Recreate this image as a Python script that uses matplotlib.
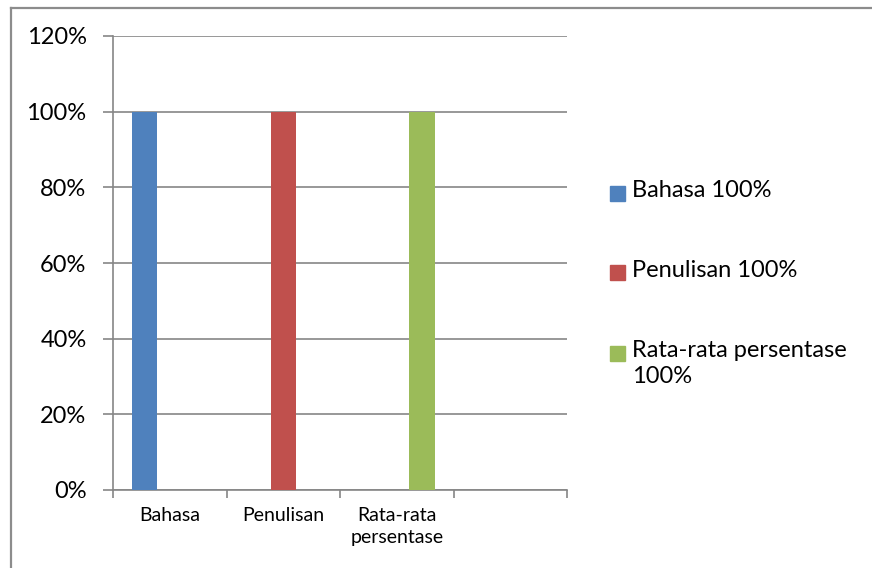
import numpy as np
import matplotlib.pyplot as plt
from matplotlib.lines import Line2D
from matplotlib.patches import Rectangle
from matplotlib.ticker import PercentFormatter

plt.rcParams['font.family'] = ['Lato', 'DejaVu Sans']

# four category slots, the last one is left empty
kategori = ['Bahasa', 'Penulisan', 'Rata-rata\npersentase', '']
seri = ['Bahasa', 'Penulisan', 'Rata-rata persentase']
nilai = [
    [100, np.nan, np.nan, np.nan],
    [np.nan, 100, np.nan, np.nan],
    [np.nan, np.nan, 100, np.nan],
]
label_legenda = ['Bahasa 100%', 'Penulisan 100%', 'Rata-rata persentase\n100%']
warna = ['#4F81BD', '#C0504D', '#9BBB59']

W, H = 872, 568
fig = plt.figure(figsize=(W / 100, H / 100), dpi=100)
ax = fig.add_axes([113 / W, 78 / H, 454 / W, 454 / H])

x = np.arange(len(kategori))
lebar = 1 / 4.5
for i, (nama, v) in enumerate(zip(seri, nilai)):
    ax.bar(x + (i - 1) * lebar, v, lebar, color=warna[i], zorder=3, label=nama)

ax.set_xlim(-0.5, len(kategori) - 0.5)
ax.set_ylim(0, 120)
ax.set_yticks(np.arange(0, 121, 20))
ax.yaxis.set_major_formatter(PercentFormatter(decimals=0))
ax.grid(axis='y', color='#868686', linewidth=1.2, zorder=0)

ax.set_xticks(np.arange(-0.5, len(kategori)))
ax.set_xticklabels([])
ax.set_xticks(x, minor=True)
ax.set_xticklabels(kategori, minor=True, fontsize=14, linespacing=1.4)
ax.tick_params(axis='x', which='minor', length=0, pad=12)
ax.tick_params(axis='x', which='major', direction='out', length=6,
               color='#868686', width=1.2)
ax.tick_params(axis='y', direction='out', length=7, color='#868686',
               width=1.2, labelsize=17, pad=12)

for s in ['top', 'right']:
    ax.spines[s].set_visible(False)
for s in ['left', 'bottom']:
    ax.spines[s].set_color('#868686')
    ax.spines[s].set_linewidth(1.2)

# legend: square key beside the first line of each label
baris_y = [193, 273, 353]
for c, teks, yb in zip(warna, label_legenda, baris_y):
    fig.add_artist(Rectangle((610 / W, 1 - (yb + 7.5) / H), 15 / W, 15 / H,
                             transform=fig.transFigure, color=c))
    fig.text(632 / W, 1 - (yb - 13) / H, teks, fontsize=17, va='top',
             ha='left', linespacing=1.3)

# chart area border (left and top edges)
fig.add_artist(Line2D([11 / W, 11 / W], [0, 1 - 7.5 / H],
                      transform=fig.transFigure, color='#8c8c8c', linewidth=1.6))
fig.add_artist(Line2D([11 / W, 1], [1 - 7.5 / H, 1 - 7.5 / H],
                      transform=fig.transFigure, color='#8c8c8c', linewidth=1.6))

fig.savefig('out.png', dpi=100)
